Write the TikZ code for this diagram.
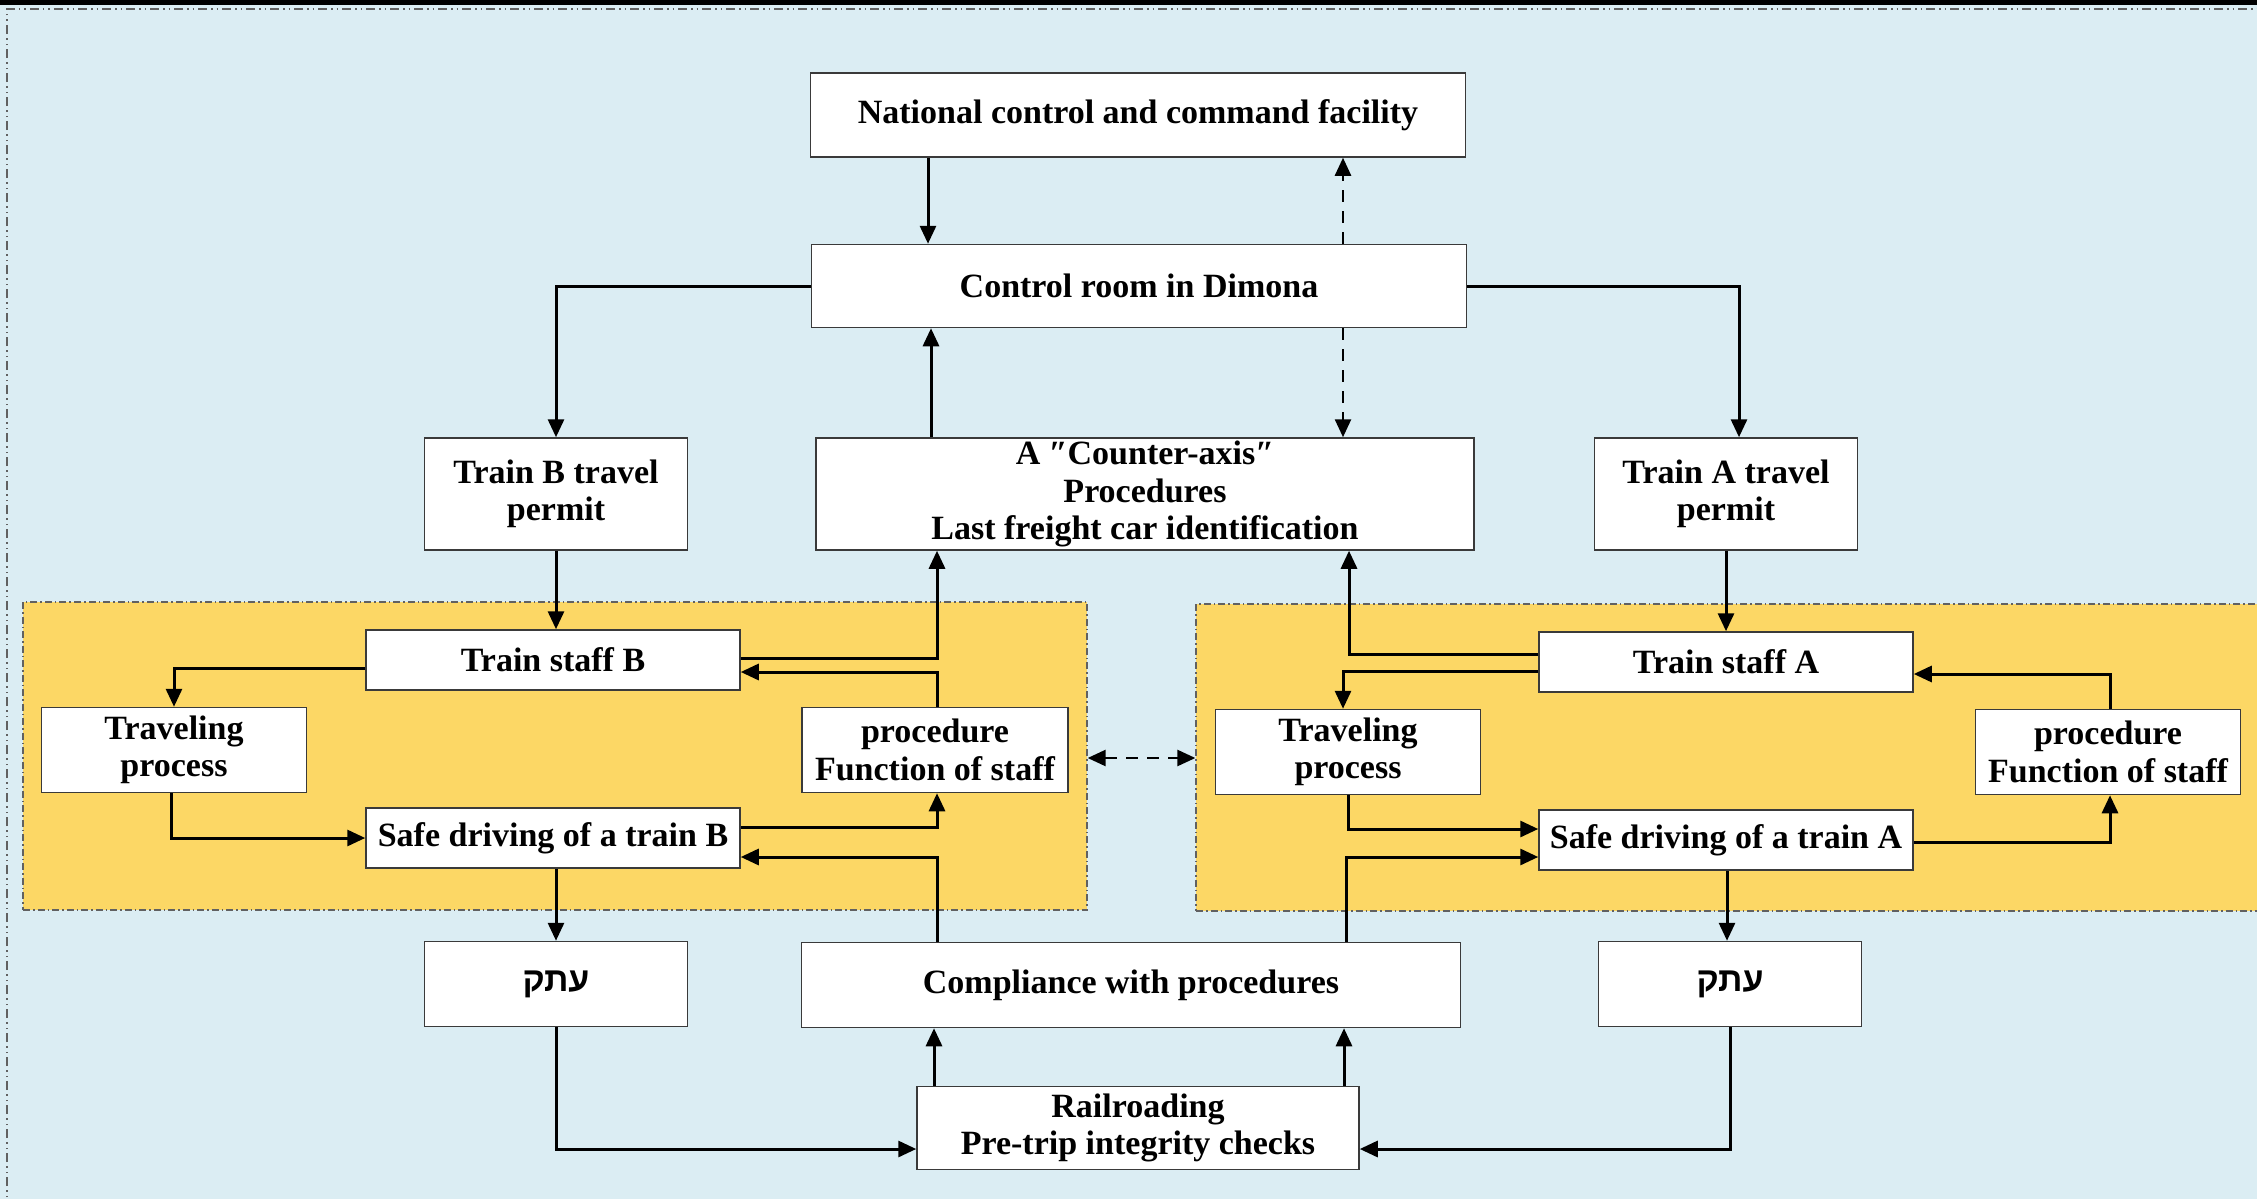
\documentclass[tikz,border=0pt]{standalone}
\usepackage{fontspec}
\setmainfont{Liberation Serif}
\newfontfamily\hebfont[Script=Hebrew]{Liberation Sans}
\TeXXeTstate=1
\usetikzlibrary{arrows.meta}
\definecolor{skyback}{HTML}{DBEDF3}
\definecolor{zoneyellow}{HTML}{FCD765}
\definecolor{edgegray}{HTML}{3A3A3A}
\tikzset{
  box/.style={draw=edgegray, line width=1.5pt, fill=white, inner sep=0pt,
    align=center, font=\fontsize{34}{37.5}\selectfont\bfseries},
  zone/.style={draw=edgegray!80, line width=1.3pt, fill=zoneyellow, inner sep=0pt,
    dash pattern=on 7pt off 3pt on 1.5pt off 3pt},
  link/.style={line width=3pt, -{Triangle[length=18pt,width=16pt]}},
  dlink/.style={line width=2.5pt, dash pattern=on 12pt off 9pt,
    -{Triangle[length=18pt,width=16pt]}},
  ddlink/.style={line width=2.5pt, dash pattern=on 12pt off 9pt,
    {Triangle[length=18pt,width=16pt]}-{Triangle[length=18pt,width=16pt]}},
}
\begin{document}
\begin{tikzpicture}[x=1pt, y=-1pt]
\useasboundingbox (0,0) rectangle (2257,1199);
% background, top band and outer frame
\fill[skyback] (0,0) rectangle (2257,1199);
\fill[black] (0,0) rectangle (2257,5);
\draw[edgegray!80, line width=1.5pt,
  dash pattern=on 9pt off 4pt on 1.5pt off 4pt on 1.5pt off 4pt]
  (7,1210) -- (7,9) -- (2270,9);

% the two train zones
\node[zone, minimum width=1064pt, minimum height=308pt] (regL) at (555,756) {};
\node[zone, minimum width=1079pt, minimum height=307pt] (regR) at (1735.5,757.5) {};

% boxes
\node[box, minimum width=655pt, minimum height=84pt] (nat) at (1138,115) {National control and command facility};
\node[box, minimum width=655pt, minimum height=83pt] (dim) at (1139,286) {Control room in Dimona};
\node[box, minimum width=263pt, minimum height=112pt] (permB) at (556,494) {Train B travel\\permit};
\node[box, minimum width=658pt, minimum height=112pt] (ctr) at (1145,494) {A ″Counter-axis″\\Procedures\\Last freight car identification};
\node[box, minimum width=263pt, minimum height=112pt] (permA) at (1726,494) {Train A travel\\permit};

\node[box, minimum width=374pt, minimum height=60pt] (staffB) at (553,660) {Train staff B};
\node[box, minimum width=265pt, minimum height=85pt] (travL) at (174,750) {Traveling\\process};
\node[box, minimum width=266pt, minimum height=85pt] (procL) at (935,750) {procedure\\Function of staff};
\node[box, minimum width=374pt, minimum height=60pt] (safeB) at (553,838) {Safe driving of a train B};

\node[box, minimum width=374pt, minimum height=60pt] (staffA) at (1726,662) {Train staff A};
\node[box, minimum width=265pt, minimum height=85pt] (travR) at (1348,752) {Traveling\\process};
\node[box, minimum width=265pt, minimum height=85pt] (procR) at (2108,752) {procedure\\Function of staff};
\node[box, minimum width=374pt, minimum height=60pt] (safeA) at (1726,840) {Safe driving of a train A};

\node[box, minimum width=263pt, minimum height=85pt] (copyL) at (556,984) {\hebfont\bfseries\beginR עתק\endR};
\node[box, minimum width=659pt, minimum height=85pt] (comp) at (1131,985) {Compliance with procedures};
\node[box, minimum width=263pt, minimum height=85pt] (copyR) at (1730,984) {\hebfont\bfseries\beginR עתק\endR};
\node[box, minimum width=442pt, minimum height=83pt] (rail) at (1138,1128) {Railroading\\Pre-trip integrity checks};

% command links
\draw[link] ([xshift=-210pt]nat.south) -- ([xshift=-210pt]nat.south |- dim.north);
\draw[dlink] ([xshift=204pt]dim.north) -- ([xshift=204pt]dim.north |- nat.south);
\draw[dlink] ([xshift=204pt]dim.south) -- ([xshift=204pt]dim.south |- ctr.north);
\draw[link] (dim.west) -| (permB.north);
\draw[link] (dim.east) -| ([xshift=13pt]permA.north);
\draw[link] ([xshift=-214pt]ctr.north) -- ([xshift=-214pt]ctr.north |- dim.south);
\draw[link] (permB.south) -- (permB.south |- staffB.north);
\draw[link] (permA.south) -- (permA.south |- staffA.north);

% train B zone
\draw[link] ([yshift=-8pt]staffB.west) -| (travL.north);
\draw[link] ([xshift=-3pt]travL.south) |- (safeB.west);
\draw[link] ([yshift=11pt]safeB.east) -| ([xshift=2pt]procL.south);
\draw[link] ([xshift=2pt]procL.north) |- ([yshift=-12pt]staffB.east);
\draw[link] ([yshift=2pt]staffB.east) -| ([xshift=-208pt]ctr.south);
\draw[link] ([xshift=-194pt]comp.north) |- ([yshift=-19pt]safeB.east);
\draw[link] (copyL.north |- safeB.south) -- (copyL.north);

% train A zone
\draw[link] ([yshift=8pt]staffA.west) -| ([xshift=204pt]ctr.south);
\draw[link] ([yshift=-9pt]staffA.west) -| ([xshift=-5pt]travR.north);
\draw[link] (travR.south) |- ([yshift=11pt]safeA.west);
\draw[link] ([xshift=215pt]comp.north) |- ([yshift=-17pt]safeA.west);
\draw[link] ([yshift=-2pt]safeA.east) -| ([xshift=2pt]procR.south);
\draw[link] ([xshift=2pt]procR.north) |- ([yshift=-12pt]staffA.east);
\draw[link] ([xshift=1pt]safeA.south) -- ([xshift=1pt]safeA.south |- copyR.north);

% checks and compliance
\draw[link] (copyL.south) |- ([yshift=-21pt]rail.west);
\draw[link] (copyR.south) |- ([yshift=-21pt]rail.east);
\draw[link] ([xshift=-204pt]rail.north) -- ([xshift=-204pt]rail.north |- comp.south);
\draw[link] ([xshift=206pt]rail.north) -- ([xshift=206pt]rail.north |- comp.south);

% exchange between the zones
\draw[ddlink] ([yshift=-2pt]regL.east) -- ([yshift=-2pt]regL.east -| regR.west);
\end{tikzpicture}
\end{document}
